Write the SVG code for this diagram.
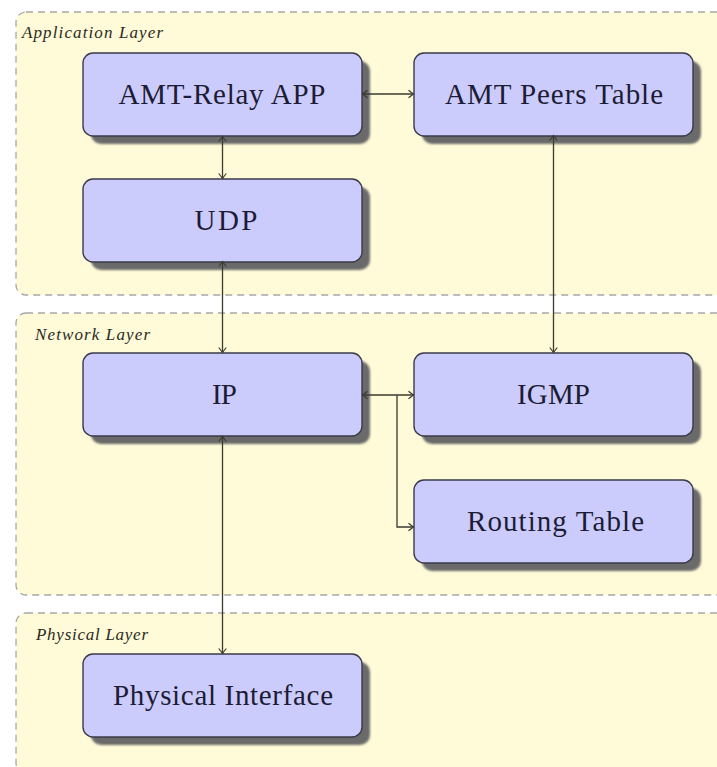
<svg xmlns="http://www.w3.org/2000/svg" width="717" height="767" viewBox="0 0 717 767">
<style>
.layer{fill:#fffad8;stroke:#a8a8a8;stroke-width:1.3;stroke-dasharray:7 5}
.ltxt{font-family:"Liberation Serif",serif;font-style:italic;font-size:17px;fill:#2a2a1e}
.box{fill:#ccccfc;stroke:#3a3a4a;stroke-width:1.4}
.shadow{fill:#6a6a6a;filter:url(#blur)}
.ntxt{font-family:"Liberation Serif",serif;font-size:29px;fill:#1c1c36;text-anchor:middle}
.conn{fill:none;stroke:#3b3b30;stroke-width:1.3;marker-end:url(#arr)}
.both{marker-start:url(#arr)}
</style>
<defs>
<filter id="blur" x="-10%" y="-10%" width="120%" height="130%"><feGaussianBlur stdDeviation="1.2"/></filter>
<marker id="arr" viewBox="-6 -5 8 10" markerWidth="8" markerHeight="10" refX="0" refY="0" orient="auto-start-reverse" markerUnits="userSpaceOnUse">
<path d="M-5,-3.8 Q-1.5,-1 0,0 Q-1.5,1 -5,3.8" fill="none" stroke="#3b3b30" stroke-width="1.2"/>
</marker>
</defs>
<rect width="717" height="767" fill="#ffffff"/>
<g id="layer-application">
<rect class="layer" x="16" y="12" width="720" height="283" rx="10"/>
<text class="ltxt" x="22" y="38" textLength="141" lengthAdjust="spacing">Application Layer</text>
</g>
<g id="layer-network">
<rect class="layer" x="16" y="313" width="720" height="282" rx="10"/>
<text class="ltxt" x="35" y="340" textLength="115" lengthAdjust="spacing">Network Layer</text>
</g>
<g id="layer-physical">
<rect class="layer" x="16" y="613" width="720" height="160" rx="10"/>
<text class="ltxt" x="36" y="640" textLength="112" lengthAdjust="spacing">Physical Layer</text>
</g>
<g id="node-amt-relay">
<rect class="shadow" x="91" y="61" width="279" height="83" rx="10"/>
<rect class="box" x="83" y="53" width="279" height="83" rx="10"/>
<text class="ntxt" x="222" y="103.5" textLength="207" lengthAdjust="spacing">AMT-Relay APP</text>
</g>
<g id="node-amt-peers">
<rect class="shadow" x="422" y="61" width="279" height="83" rx="10"/>
<rect class="box" x="414" y="53" width="279" height="83" rx="10"/>
<text class="ntxt" x="554" y="103.5" textLength="218" lengthAdjust="spacing">AMT Peers Table</text>
</g>
<g id="node-udp">
<rect class="shadow" x="91" y="187" width="279" height="83" rx="10"/>
<rect class="box" x="83" y="179" width="279" height="83" rx="10"/>
<text class="ntxt" x="226" y="230" textLength="63" lengthAdjust="spacing">UDP</text>
</g>
<g id="node-ip">
<rect class="shadow" x="91" y="361" width="279" height="83" rx="10"/>
<rect class="box" x="83" y="353" width="279" height="83" rx="10"/>
<text class="ntxt" x="224.5" y="404" textLength="25" lengthAdjust="spacing">IP</text>
</g>
<g id="node-igmp">
<rect class="shadow" x="422" y="361" width="279" height="83" rx="10"/>
<rect class="box" x="414" y="353" width="279" height="83" rx="10"/>
<text class="ntxt" x="553.5" y="404" textLength="73" lengthAdjust="spacing">IGMP</text>
</g>
<g id="node-routing">
<rect class="shadow" x="422" y="488" width="279" height="83" rx="10"/>
<rect class="box" x="414" y="480" width="279" height="83" rx="10"/>
<text class="ntxt" x="555.5" y="531" textLength="177" lengthAdjust="spacing">Routing Table</text>
</g>
<g id="node-physical">
<rect class="shadow" x="91" y="662" width="279" height="83" rx="10"/>
<rect class="box" x="83" y="654" width="279" height="83" rx="10"/>
<text class="ntxt" x="223" y="705" textLength="220" lengthAdjust="spacing">Physical Interface</text>
</g>
<g id="connectors">
<path class="conn both" d="M362.5,94 H413.5"/>
<path class="conn both" d="M222.5,136.5 V178.5"/>
<path class="conn both" d="M222.5,261.5 V352.5"/>
<path class="conn both" d="M553.5,135.5 V352.5"/>
<path class="conn both" d="M362.5,395 H413.5"/>
<path class="conn" d="M397,395 V527 H413.5"/>
<path class="conn both" d="M222.5,436.5 V653.5"/>
</g>
</svg>
